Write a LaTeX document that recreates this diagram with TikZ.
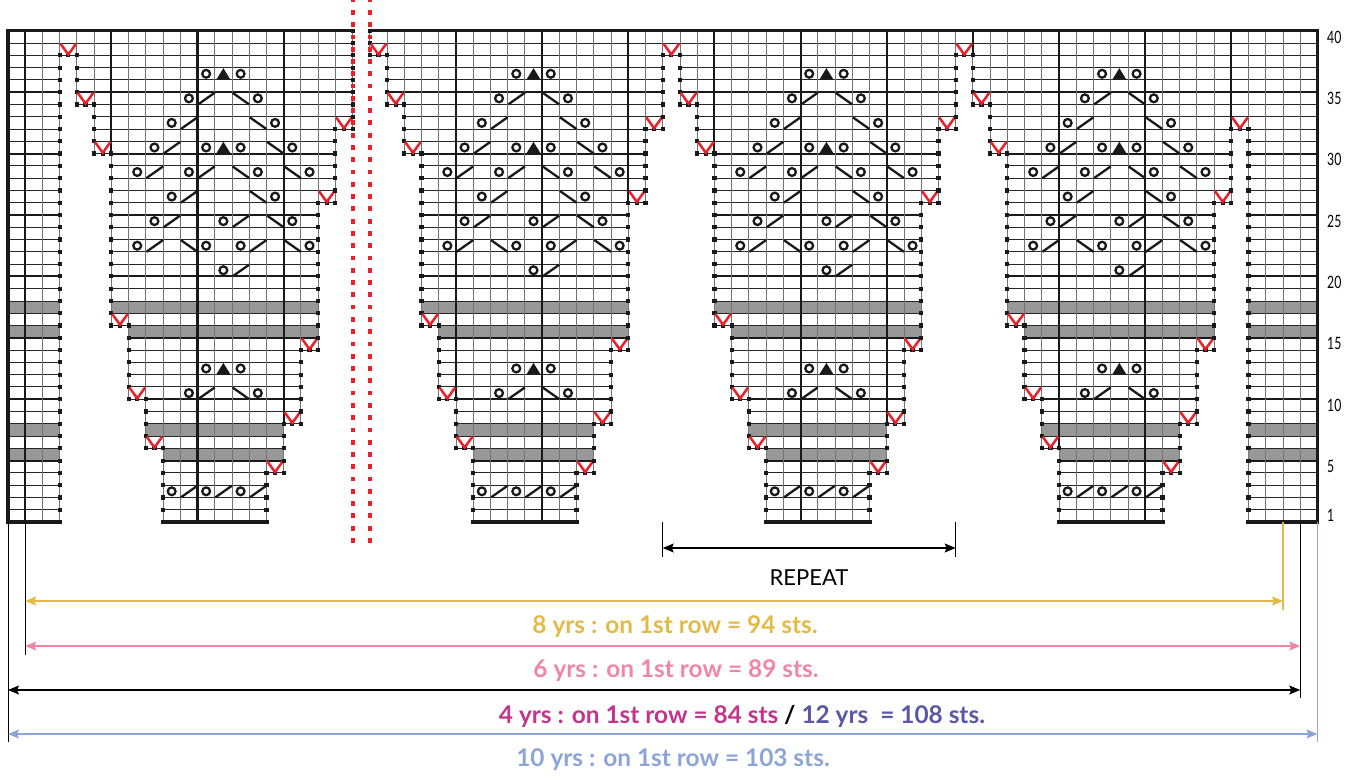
\documentclass[tikz,border=0pt]{standalone}
\usepackage{fontspec}
\newfontfamily\labf{Lato}
\usetikzlibrary{arrows.meta}
\definecolor{cyel}{RGB}{226,186,72}
\definecolor{cpink}{RGB}{240,134,166}
\definecolor{cmag}{RGB}{196,52,140}
\definecolor{cpur}{RGB}{88,88,166}
\definecolor{cblue}{RGB}{140,164,214}
\definecolor{cred}{RGB}{236,32,40}
\definecolor{cgray}{RGB}{152,152,152}
\newcommand\symO[2]{\draw[sym] ({8+(\pofs+#1+0.5)*\cw},{522-(#2-0.5)*\rh}) circle (3.9pt);}
\newcommand\symT[2]{\fill[black!90] ({8+(\pofs+#1)*\cw+1.6},{522-(#2-1)*\rh-0.3}) -- ({8+(\pofs+#1+0.5)*\cw},{522-#2*\rh+0.5}) -- ({8+(\pofs+#1+1)*\cw-1.6},{522-(#2-1)*\rh-0.3}) -- cycle;}
\newcommand\symR[2]{\draw[sym] ({8+(\pofs+#1)*\cw+0.5},{522-(#2-1)*\rh}) -- ({8+(\pofs+#1+1)*\cw},{522-#2*\rh+0.5});}
\newcommand\symL[2]{\draw[sym] ({8+(\pofs+#1)*\cw+0.5},{522-#2*\rh+0.5}) -- ({8+(\pofs+#1+1)*\cw},{522-(#2-1)*\rh});}
\begin{document}
\begin{tikzpicture}[x=1pt,y=-1pt,
  hthin/.style={line width=0.85pt,black!85},
  vthin/.style={line width=0.85pt,black!55},
  gthick/.style={line width=2.1pt,black!90},
  border/.style={line width=3.4pt,black!90},
  sym/.style={line width=2.3pt,black!90},
  redv/.style={cred,line width=2.5pt},
  tipS/.tip={Stealth[length=11pt,width=9pt,inset=2pt]},
  dim/.style={line width=1.2pt,tipS-tipS},
  ext/.style={line width=1pt},
  lab/.style={font=\labf\bfseries\fontsize{24.4}{28}\selectfont},
  rown/.style={font=\labf\fontsize{17}{20}\selectfont,anchor=west,inner sep=0pt},
]
\useasboundingbox (0,0) rectangle (1361,778);
\def\cw{17.23}\def\rh{12.28}
\def\G{{0,0,0,38,34,30,16,10,6,0,0,0,0,0,0,4,8,14,26,32,40,38,34,30,16,10,6,0,0,0,0,0,0,4,8,14,26,32,38,34,30,16,10,6,0,0,0,0,0,0,4,8,14,26,32,38,34,30,16,10,6,0,0,0,0,0,0,4,8,14,26,32,0,0,0,0}}
% gray rows
\foreach \c in {0,...,75}{
  \pgfmathtruncatemacro\g{\G[\c]}
  \foreach \r in {6,8,16,18}{
    \ifnum\r>\g \fill[cgray] ({8+\c*\cw},{522-\r*\rh}) rectangle ({8+(\c+1)*\cw},{522-(\r-1)*\rh}); \fi
  }
}
% horizontal grid
\foreach \c in {0,...,75}{
  \pgfmathtruncatemacro\g{\G[\c]}
  \ifnum\g<40
    \pgfmathtruncatemacro\gs{max(\g,1)}
    \draw[hthin] \foreach \r in {\gs,...,39}{ ({8+\c*\cw},{522-\r*\rh}) -- ({8+(\c+1)*\cw},{522-\r*\rh}) };
    \foreach \r in {5,10,...,35}{\ifnum\r>\g \draw[gthick] ({8+\c*\cw},{522-\r*\rh}) -- ({8+(\c+1)*\cw},{522-\r*\rh}); \fi}
  \fi
}
% vertical grid
\foreach \c in {1,...,75}{
  \pgfmathtruncatemacro\ga{\G[\c-1]}
  \pgfmathtruncatemacro\gb{\G[\c]}
  \pgfmathtruncatemacro\glo{min(\ga,\gb)}
  \pgfmathtruncatemacro\ghi{max(\ga,\gb)}
  \pgfmathtruncatemacro\isth{mod(\c,5)==1}
  \ifnum\glo<40 \draw[vthin] ({8+\c*\cw},{522-\glo*\rh}) -- ({8+\c*\cw},{522-40*\rh}); \fi
  \ifnum\isth=1 \ifnum\ghi<40 \draw[gthick] ({8+\c*\cw},{522-\ghi*\rh}) -- ({8+\c*\cw},{522-40*\rh}); \fi\fi
}
% borders
\draw[border,line cap=rect] ({8},{522}) -- ({8},{522-40*\rh}) -- ({8+20*\cw},{522-40*\rh});
\draw[border,line cap=rect] ({8+21*\cw},{522-40*\rh}) -- ({8+76*\cw},{522-40*\rh}) -- ({8+76*\cw},{522});
\foreach \c in {0,...,75}{
  \pgfmathtruncatemacro\g{\G[\c]}
  \ifnum\g=0 \draw[border] ({8+\c*\cw},522) -- ({8+(\c+1)*\cw},522); \fi
}
% red dotted divider
\foreach \r in {-1,...,43}{
  \fill[cred] ({8+20*\cw},{522-(\r-0.5)*\rh}) +(-2.1,-2.4) rectangle +(2.1,2.4);
  \fill[cred] ({8+21*\cw},{522-(\r-0.5)*\rh}) +(-2.1,-2.4) rectangle +(2.1,2.4);
}
% dotted outlines and red V
\foreach \c in {0,...,75}{
  \pgfmathtruncatemacro\g{\G[\c]}
  \ifnum\g>0
    \ifnum\g<40
      \foreach \k in {0,0.5,1} \fill[black!90] ({8+(\c+\k)*\cw},{522-\g*\rh}) +(-2.1,-2.1) rectangle +(2.1,2.1);
      \draw[redv] ({8+\c*\cw+0.8},{522-(\g+1)*\rh+0.6}) -- ({8+(\c+0.5)*\cw},{522-\g*\rh-0.8}) -- ({8+(\c+1)*\cw-0.8},{522-(\g+1)*\rh+0.6});
    \fi
    \ifnum\c>0
      \pgfmathtruncatemacro\gl{\G[\c-1]}
      \ifnum\gl<\g \foreach \r in {\gl,...,\g} \fill[black!90] ({8+\c*\cw},{522-\r*\rh}) +(-2.1,-2.1) rectangle +(2.1,2.1); \fi
    \fi
    \ifnum\c<75
      \pgfmathtruncatemacro\gr{\G[\c+1]}
      \ifnum\gr<\g \foreach \r in {\gr,...,\g} \fill[black!90] ({8+(\c+1)*\cw},{522-\r*\rh}) +(-2.1,-2.1) rectangle +(2.1,2.1); \fi
    \fi
  \fi
}
% stitch symbols
\foreach \pofs in {0,18,35,52}{
  \symO{11}{37}\symT{12}{37}\symO{13}{37}
  \symO{10}{35}\symR{11}{35}\symL{13}{35}\symO{14}{35}
  \symO{9}{33}\symR{10}{33}\symL{14}{33}\symO{15}{33}
  \symO{8}{31}\symR{9}{31}\symO{11}{31}\symT{12}{31}\symO{13}{31}\symL{15}{31}\symO{16}{31}
  \symO{7}{29}\symR{8}{29}\symO{10}{29}\symR{11}{29}\symL{13}{29}\symO{14}{29}\symL{16}{29}\symO{17}{29}
  \symO{9}{27}\symR{10}{27}\symL{14}{27}\symO{15}{27}
  \symO{8}{25}\symR{9}{25}\symO{12}{25}\symR{13}{25}\symL{15}{25}\symO{16}{25}
  \symO{7}{23}\symR{8}{23}\symL{10}{23}\symO{11}{23}\symO{13}{23}\symR{14}{23}\symL{16}{23}\symO{17}{23}
  \symO{12}{21}\symR{13}{21}
  \symO{11}{13}\symT{12}{13}\symO{13}{13}
  \symO{10}{11}\symR{11}{11}\symL{13}{11}\symO{14}{11}
  \symO{9}{3}\symR{10}{3}\symO{11}{3}\symR{12}{3}\symO{13}{3}\symR{14}{3}
}
% row numbers
\foreach \n in {40,35,30,25,20,15,10,5,1}{
  \node[rown] (row\n) at (1327,{522-(\n-0.5)*\rh}) {\scalebox{0.72}[1]{\n}};
}
% dimension coordinates
\coordinate (b0) at (8,522);        \coordinate (e0) at (8,742);
\coordinate (b1) at ({8+\cw},522);   \coordinate (e1) at ({8+\cw},655);
\coordinate (b38) at ({8+38*\cw},522); \coordinate (e38) at ({8+38*\cw},557);
\coordinate (b55) at ({8+55*\cw},522); \coordinate (e55) at ({8+55*\cw},557);
\coordinate (b74) at ({8+74*\cw},522); \coordinate (e74) at ({8+74*\cw},610);
\coordinate (b75) at ({8+75*\cw},522); \coordinate (e75) at ({8+75*\cw},698);
\coordinate (b76) at ({8+76*\cw},522); \coordinate (e76) at ({8+76*\cw},742);
\draw[ext] (b0) -- (e0);
\draw[ext] (b1) -- (e1);
\draw[ext] (b38) -- (e38);
\draw[ext] (b55) -- (e55);
\draw[ext,cyel,line width=1.3pt] (b74) -- (e74);
\draw[ext] (b75) -- (e75);
\draw[ext,cblue,line width=1.3pt] (b76) -- (e76);
\coordinate (rL) at ({8+38*\cw},548); \coordinate (rR) at ({8+55*\cw},548);
\coordinate (yL) at ({8+\cw},601);    \coordinate (yR) at ({8+74*\cw},601);
\coordinate (pL) at ({8+\cw},646);    \coordinate (pR) at ({8+75*\cw},646);
\coordinate (kL) at (8,690);          \coordinate (kR) at ({8+75*\cw},690);
\coordinate (uL) at (8,734);          \coordinate (uR) at ({8+76*\cw},734);
\draw[dim] (rL) -- (rR);
\draw[dim,cyel] (yL) -- (yR);
\draw[dim,cpink] (pL) -- (pR);
\draw[dim] (kL) -- (kR);
\draw[dim,cblue] (uL) -- (uR);
% labels
\node[font=\labf\fontsize{22}{26}\selectfont] (rep) at (809,578) {REPEAT};
\node[lab,text=cyel] (t8) at (675,627) {8 yrs : on 1st row = 94 sts.};
\node[lab,text=cpink] (t6) at (676,671) {6 yrs : on 1st row = 89 sts.};
\node[lab] (t4) at (742,716) {\textcolor{cmag}{4 yrs : on 1st row = 84 sts} \textcolor{black}{/} \textcolor{cpur}{12 yrs\ \ = 108 sts.}};
\node[lab,text=cblue] (t10) at (673,760) {10 yrs : on 1st row = 103 sts.};
\end{tikzpicture}
\end{document}
